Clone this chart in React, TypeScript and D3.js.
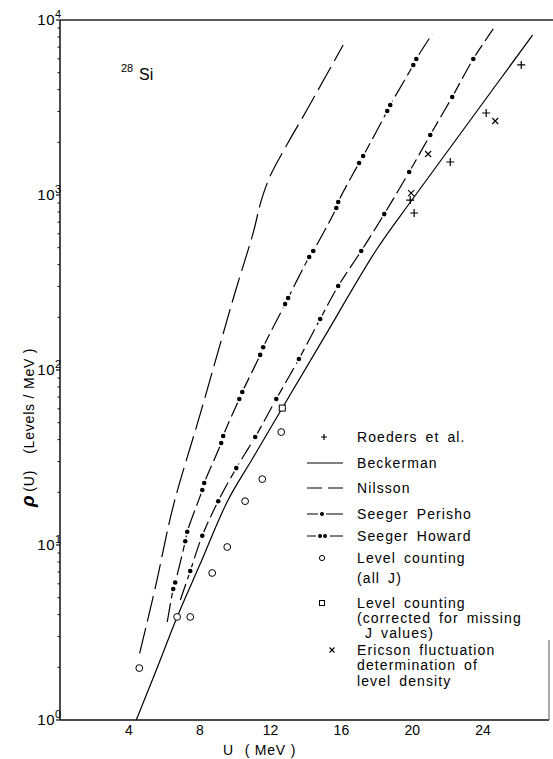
import React from "react";
import * as d3 from "d3";

// ---------- data ----------
const xTicks = [4, 8, 12, 16, 20, 24];
const yDecades = [0, 1, 2, 3, 4];

const nilssonU = [4.6, 5.5, 6.5, 8.0, 10.0, 11.0, 11.5, 12.0, 13.0, 14.0, 16.1];
const nilssonV = [2.4, 5.8, 16.7, 55, 279, 600, 950, 1300, 2000, 3000, 7200];

const beckermanU = [4.41, 5.5, 6.72, 8.0, 9.6, 11.0, 12.66, 15.0, 17.97, 19.9, 23.0, 26.8];
const beckermanV = [1, 1.88, 3.88, 7.7, 18.1, 31.4, 60.6, 152, 485, 912, 2447, 8200];

// Seeger Perisho: curve ends + single-dot markers
const perishoStart = [6.9, 4.85];
const perishoEnd = [24.58, 8890];
const perishoU = [7.46, 8.14, 9.04, 10.06, 11.13, 12.32, 13.6, 14.8, 15.82, 17.12, 18.42, 19.83, 21.02, 22.26, 23.45];
const perishoV = [7.1, 11.3, 17.8, 27.5, 41.4, 68.3, 115.6, 195.5, 302, 479, 778, 1353, 2203, 3632, 5986];

// Seeger Howard: curve ends + paired-dot markers
const howardStart = [6.16, 3.63];
const howardEnd = [21.13, 8318];
const howardU = [6.5, 6.61, 7.18, 7.29, 8.14, 8.25, 9.21, 9.32, 10.23, 10.4, 11.41, 11.58, 12.82, 12.99, 14.18, 14.41, 15.71, 15.82, 17.0, 17.23, 18.59, 18.76, 20.06, 20.23];
const howardV = [5.6, 6.1, 10.5, 11.9, 20.6, 22.6, 38.3, 42, 68.3, 74.9, 122, 135, 238, 258, 442, 479, 843, 912, 1524, 1670, 3020, 3268, 5534, 5986];

const roedersU = [26.16, 24.18, 22.15, 19.89, 20.11];
const roedersV = [5534, 2942, 1544, 936, 789];

const ericsonU = [24.69, 20.9, 19.94];
const ericsonV = [2648, 1715, 1026];

const levelU = [4.58, 6.72, 7.46, 8.7, 9.55, 10.56, 11.53, 12.6];
const levelV = [1.98, 3.88, 3.88, 6.92, 9.74, 17.8, 23.8, 44.2];

const correctedU = [12.66];
const correctedV = [60.6];

const legendLabels = [
  ["Roeders et al."],
  ["Beckerman"],
  ["Nilsson"],
  ["Seeger Perisho"],
  ["Seeger Howard"],
  ["Level counting", "(all J)"],
  ["Level counting", "(corrected for missing", " J values)"],
  ["Ericson fluctuation", "determination of", "level density"],
];

// ---------- layout ----------
const W = 553;
const H = 759;
const AX_L = 60;
const AX_R = 549;
const AX_T = 20;
const AX_B = 720;
const FONT = "'Liberation Sans', Arial, sans-serif";

const x = d3.scaleLinear().domain([0, 28]).range([58.2, 58.2 + 17.7 * 28]);
const y = d3.scaleLog().domain([1, 10000]).range([AX_B, AX_T]);

const zip = (u: number[], v: number[]) => u.map((d, i) => [d, v[i]] as [number, number]);

const line = d3
  .line<[number, number]>()
  .x((d) => x(d[0]))
  .y((d) => y(d[1]))
  .curve(d3.curveCatmullRom.alpha(0.5));

const Plus = ({ cx, cy, s = 4 }: { cx: number; cy: number; s?: number }) => (
  <path d={`M${cx - s},${cy}H${cx + s}M${cx},${cy - s}V${cy + s}`} stroke="#000" strokeWidth={1.2} />
);
const Cross = ({ cx, cy, s = 3 }: { cx: number; cy: number; s?: number }) => (
  <path d={`M${cx - s},${cy - s}L${cx + s},${cy + s}M${cx - s},${cy + s}L${cx + s},${cy - s}`} stroke="#000" strokeWidth={1.1} />
);

export default function App() {
  const nilsson = zip(nilssonU, nilssonV);
  const beck = zip(beckermanU, beckermanV);
  const perDots = zip(perishoU, perishoV);
  const perCurve = [perishoStart as [number, number], ...perDots, perishoEnd as [number, number]];
  const howDots = zip(howardU, howardV);
  const howCurve = [howardStart as [number, number], ...howDots, howardEnd as [number, number]];

  const minor: number[] = [];
  for (let d = 0; d < 4; d++) for (let k = 2; k <= 9; k++) minor.push(k * Math.pow(10, d));

  const legendY = [
    [437],
    [463],
    [488],
    [514],
    [536],
    [558, 578],
    [603, 618, 633],
    [650, 665, 681],
  ];
  const LX = 357;
  const MX = 322;

  return (
    <svg width={W} height={H} style={{ position: "absolute", left: 0, top: 0, background: "#fff" }} fontFamily={FONT}>
      <rect width={W} height={H} fill="#fff" />
      {/* frame */}
      <line x1={AX_L} x2={W} y1={AX_T} y2={AX_T} stroke="#222" strokeWidth={1.6} />
      <line x1={AX_L} x2={AX_L} y1={AX_T} y2={AX_B} stroke="#111" strokeWidth={1.5} />
      <line x1={AX_L} x2={AX_R} y1={AX_B} y2={AX_B} stroke="#111" strokeWidth={1.4} />
      <line x1={AX_R} x2={AX_R} y1={640} y2={AX_B} stroke="#555" strokeWidth={1} />

      {/* y ticks */}
      {minor.map((v) => (
        <line key={v} x1={AX_L - 2.5} x2={AX_L} y1={y(v)} y2={y(v)} stroke="#111" strokeWidth={1} />
      ))}
      {yDecades.map((p) => (
        <g key={p}>
          <line x1={AX_L - 4} x2={AX_L} y1={y(Math.pow(10, p))} y2={y(Math.pow(10, p))} stroke="#111" strokeWidth={1.2} />
          <text x={AX_L - 5} y={y(Math.pow(10, p)) + 5} fontSize={15} textAnchor="end" letterSpacing={0.5}>
            10
          </text>
          <text x={AX_L - 5} y={y(Math.pow(10, p)) - 2} fontSize={11}>
            {p}
          </text>
        </g>
      ))}

      {/* x tick labels */}
      {xTicks.map((t) => (
        <text key={t} x={x(t)} y={735} fontSize={14} textAnchor="middle">
          {t}
        </text>
      ))}
      <text x={223} y={755} fontSize={14} letterSpacing={0.8}>
        U{"  "}
        <tspan dx={6}>( MeV )</tspan>
      </text>

      {/* y label */}
      <text transform="translate(34,507) rotate(-90)" fontSize={14} letterSpacing={0.8}>
        <tspan fontWeight="bold" fontSize={19} fontStyle="italic">ρ</tspan>
        <tspan dx={3}>(U)</tspan>
        <tspan dx={16}>(Levels / MeV )</tspan>
      </text>

      {/* nucleus label */}
      <text x={121} y={72} fontSize={11}>28</text>
      <text x={139} y={80} fontSize={16}>Si</text>

      {/* curves */}
      <path d={line(nilsson) || ""} fill="none" stroke="#000" strokeWidth={1.2} strokeDasharray="26 7" />
      <path d={line(beck) || ""} fill="none" stroke="#000" strokeWidth={1.2} />
      <path d={line(perCurve) || ""} fill="none" stroke="#000" strokeWidth={1.2} strokeDasharray="17 5" />
      <path d={line(howCurve) || ""} fill="none" stroke="#000" strokeWidth={1.2} strokeDasharray="19 5" />

      {/* dot markers with gaps */}
      {[...perDots, ...howDots].map((d, i) => (
        <circle key={"h" + i} cx={x(d[0])} cy={y(d[1])} r={4} fill="#fff" />
      ))}
      {[...perDots, ...howDots].map((d, i) => (
        <circle key={"d" + i} cx={x(d[0])} cy={y(d[1])} r={2.3} fill="#000" />
      ))}

      {/* data points */}
      {zip(roedersU, roedersV).map((d, i) => (
        <Plus key={"p" + i} cx={x(d[0])} cy={y(d[1])} />
      ))}
      {zip(ericsonU, ericsonV).map((d, i) => (
        <Cross key={"x" + i} cx={x(d[0])} cy={y(d[1])} />
      ))}
      {zip(levelU, levelV).map((d, i) => (
        <circle key={"o" + i} cx={x(d[0])} cy={y(d[1])} r={3.4} fill="#fff" stroke="#000" strokeWidth={1} />
      ))}
      {zip(correctedU, correctedV).map((d, i) => (
        <rect key={"s" + i} x={x(d[0]) - 3} y={y(d[1]) - 3} width={6} height={6} fill="#fff" stroke="#000" strokeWidth={1} />
      ))}

      {/* legend */}
      <Plus cx={MX + 2} cy={legendY[0][0]} s={3} />
      <line x1={307} x2={343} y1={legendY[1][0]} y2={legendY[1][0]} stroke="#000" strokeWidth={1} />
      <line x1={307} x2={343} y1={legendY[2][0]} y2={legendY[2][0]} stroke="#000" strokeWidth={1} strokeDasharray="15 6" />
      <line x1={307} x2={318} y1={legendY[3][0]} y2={legendY[3][0]} stroke="#000" strokeWidth={1} />
      <line x1={326} x2={343} y1={legendY[3][0]} y2={legendY[3][0]} stroke="#000" strokeWidth={1} />
      <circle cx={MX} cy={legendY[3][0]} r={2} fill="#000" />
      <line x1={307} x2={316} y1={legendY[4][0]} y2={legendY[4][0]} stroke="#000" strokeWidth={1} />
      <line x1={330} x2={343} y1={legendY[4][0]} y2={legendY[4][0]} stroke="#000" strokeWidth={1} />
      <circle cx={MX - 2} cy={legendY[4][0]} r={2} fill="#000" />
      <circle cx={MX + 3} cy={legendY[4][0]} r={2} fill="#000" />
      <circle cx={MX} cy={legendY[5][0]} r={2.6} fill="#fff" stroke="#000" strokeWidth={1} />
      <rect x={MX - 2.5} y={legendY[6][0] - 2.5} width={5} height={5} fill="#fff" stroke="#000" strokeWidth={1} />
      <Cross cx={MX + 10} cy={legendY[7][0]} s={2.5} />

      {legendLabels.map((lines, i) =>
        lines.map((t, j) => (
          <text key={i + "-" + j} x={LX} y={legendY[i][j] + 5} fontSize={14} letterSpacing={1.1} wordSpacing={3} style={{ whiteSpace: "pre" }}>
            {t}
          </text>
        ))
      )}
    </svg>
  );
}
